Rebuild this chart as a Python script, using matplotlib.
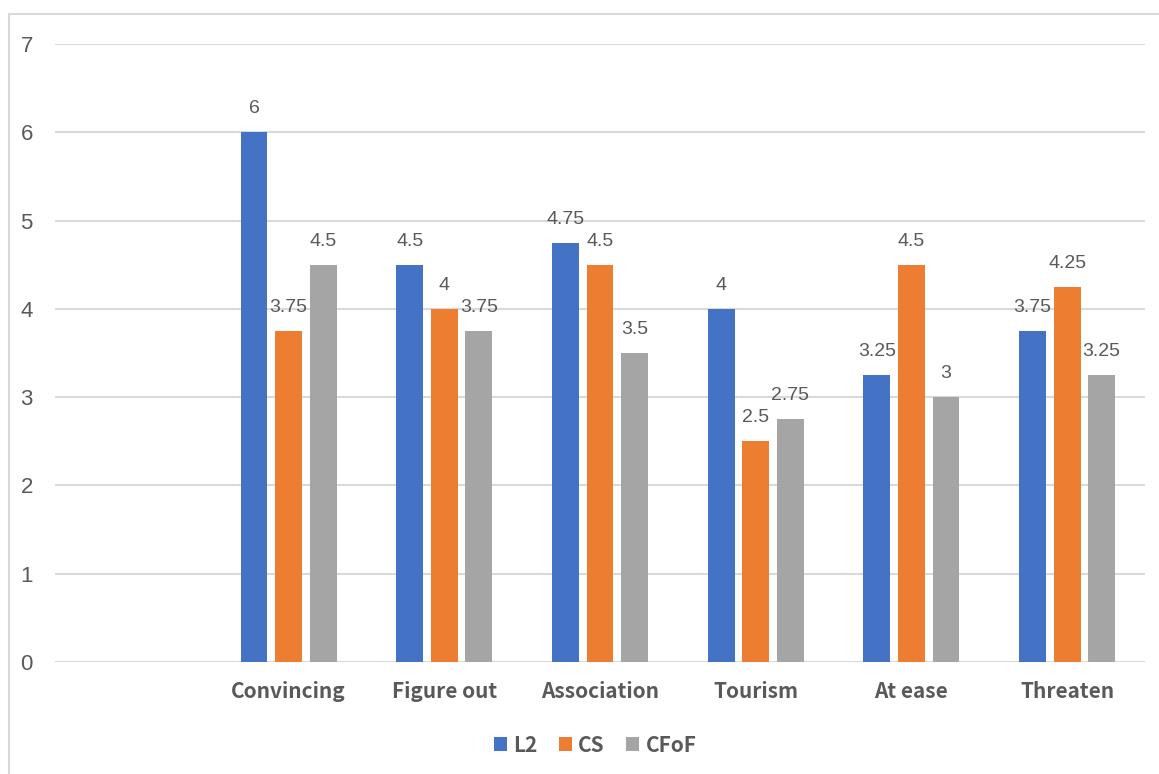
import numpy as np
import matplotlib.pyplot as plt
from matplotlib.patches import Rectangle

categories = ['', 'Convincing', 'Figure out', 'Association', 'Tourism', 'At ease', 'Threaten']
series_names = ['L2', 'CS', 'CFoF']
l2 = [None, 6, 4.5, 4.75, 4, 3.25, 3.75]
cs = [None, 3.75, 4, 4.5, 2.5, 4.5, 4.25]
cfof = [None, 4.5, 3.75, 3.5, 2.75, 3, 3.25]
colors = ['#4472C4', '#ED7D31', '#A5A5A5']

text_color = '#595959'
grid_color = '#D9D9D9'

fig = plt.figure(figsize=(11.59, 7.74), dpi=100)
ax = fig.add_axes([55 / 1159, 1 - 662 / 774, 1090 / 1159, 618 / 774])

# chart frame
fig.patches.append(Rectangle((9 / 1159, -0.05), 1.1, 1 - 14 / 774 + 0.05,
                             transform=fig.transFigure, fill=False,
                             edgecolor=grid_color, linewidth=1.5))

x = np.arange(len(categories))
width = 0.173
step = 0.222
for i, (name, vals) in enumerate(zip(series_names, [l2, cs, cfof])):
    xs = [xi + (i - 1) * step for xi, v in zip(x, vals) if v is not None]
    vs = [v for v in vals if v is not None]
    ax.bar(xs, vs, width, color=colors[i], label=name, zorder=3)
    for xv, v in zip(xs, vs):
        ax.annotate('{:g}'.format(v), (xv, v), xytext=(0, 17), textcoords='offset points',
                    ha='center', va='center', fontsize=14, color=text_color,
                    family='Liberation Sans')

ax.set_xlim(-0.5, len(categories) - 0.5)
ax.set_ylim(0, 7)
ax.set_yticks(range(0, 8))
ax.yaxis.grid(True, color=grid_color, linewidth=1.5, zorder=0)
ax.set_axisbelow(True)
for s in ['top', 'right', 'left', 'bottom']:
    ax.spines[s].set_visible(False)
ax.tick_params(axis='both', length=0)
ax.tick_params(axis='y', pad=16)
ax.set_xticks(x)
ax.set_xticklabels(categories, fontsize=15, color=text_color,
                   family='Noto Sans CJK SC', fontweight='bold')
ax.tick_params(axis='x', pad=14)
for lab in ax.get_yticklabels():
    lab.set_fontsize(16)
    lab.set_color(text_color)
    lab.set_family('Liberation Sans')

leg = fig.legend(loc='center', bbox_to_anchor=(595 / 1159, 1 - 745 / 774), ncol=3,
                 frameon=False, handlelength=0.65, handleheight=0.65, handletextpad=0.3,
                 columnspacing=1.0, prop={'family': 'Noto Sans CJK SC', 'size': 15,
                                          'weight': 'bold'})
for t in leg.get_texts():
    t.set_color(text_color)

fig.savefig('out.png', dpi=100)
